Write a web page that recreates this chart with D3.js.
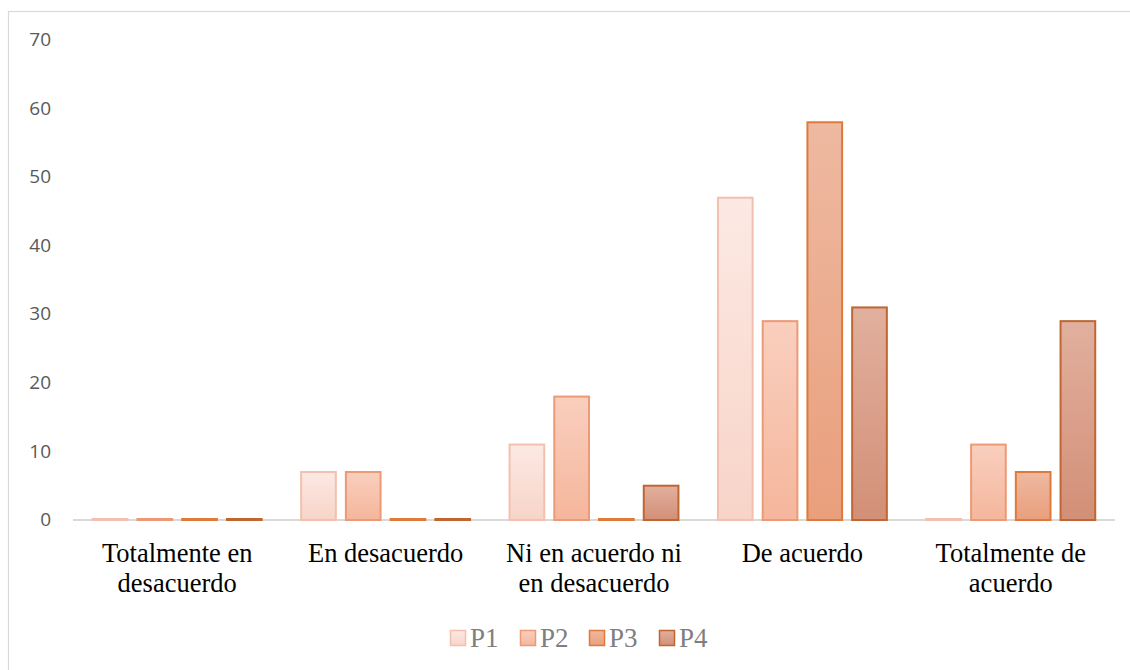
<!DOCTYPE html>
<html>
<head>
<meta charset="utf-8">
<script src="https://cdn.jsdelivr.net/npm/d3@7"></script>
<style>
  html, body { margin: 0; padding: 0; background: #fff; }
  svg { display: block; }
</style>
</head>
<body>
<svg id="chart" width="1130" height="670"></svg>
<script>
// Survey answer categories (two-line labels)
const categories = [
  ["Totalmente en", "desacuerdo"],
  ["En desacuerdo"],
  ["Ni en acuerdo ni", "en desacuerdo"],
  ["De acuerdo"],
  ["Totalmente de", "acuerdo"]
];
const seriesNames = ["P1", "P2", "P3", "P4"];
const p1 = [0, 7, 11, 47, 0];
const p2 = [0, 7, 18, 29, 11];
const p3 = [0, 0, 0, 58, 7];
const p4 = [0, 0, 5, 31, 29];
const yTicks = [0, 10, 20, 30, 40, 50, 60, 70];

const seriesValues = [p1, p2, p3, p4];
const seriesStyle = [
  { top: "#fce9e3", bottom: "#f8d4c8", stroke: "#f2c0ae" },
  { top: "#f9cfbe", bottom: "#f5b69c", stroke: "#ec9a76" },
  { top: "#eeb9a1", bottom: "#e99f7c", stroke: "#dd7a3c" },
  { top: "#e1b09e", bottom: "#d38f77", stroke: "#bf6631" }
];

const svg = d3.select("#chart");

// Outer chart frame
svg.append("rect")
  .attr("x", 8.5).attr("y", 11.5)
  .attr("width", 1140).attr("height", 700)
  .attr("fill", "#fff").attr("stroke", "#d9d9d9").attr("stroke-width", 1.2);

const defs = svg.append("defs");
seriesStyle.forEach((s, i) => {
  const g = defs.append("linearGradient")
    .attr("id", "grad" + i).attr("x1", 0).attr("y1", 0).attr("x2", 0).attr("y2", 1);
  g.append("stop").attr("offset", "0%").attr("stop-color", s.top);
  g.append("stop").attr("offset", "100%").attr("stop-color", s.bottom);
});

const plot = { left: 73, right: 1115, top: 40, bottom: 520 };

const x0 = d3.scaleBand()
  .domain(d3.range(categories.length))
  .range([plot.left, plot.right])
  .paddingInner(0).paddingOuter(0);

const groupInner = 0.82;
const x1 = d3.scaleBand()
  .domain(d3.range(seriesNames.length))
  .range([0, x0.bandwidth() * groupInner])
  .paddingInner(0.18).paddingOuter(0);

const y = d3.scaleLinear().domain([0, 70]).range([plot.bottom, plot.top]);

// Y tick labels
const yAxis = d3.axisLeft(y).tickValues(yTicks).tickSize(0).tickPadding(0);
const yG = svg.append("g").attr("transform", `translate(${51},0)`).call(yAxis);
yG.select(".domain").remove();
yG.selectAll("text")
  .attr("fill", "#595959")
  .attr("font-family", "'Open Sans', 'Noto Sans', sans-serif")
  .attr("font-size", 19)
  .attr("text-anchor", "end")
  .attr("dy", "0.3em");

// Baseline
svg.append("line")
  .attr("x1", plot.left).attr("x2", plot.right)
  .attr("y1", y(0)).attr("y2", y(0))
  .attr("stroke", "#d9d9d9").attr("stroke-width", 2);

// Bars
const groups = svg.append("g").selectAll("g")
  .data(categories)
  .join("g")
  .attr("transform", (d, i) => `translate(${x0(i) + x0.bandwidth() * (1 - groupInner) / 2},0)`);

groups.each(function (d, ci) {
  const g = d3.select(this);
  seriesValues.forEach((vals, si) => {
    const v = vals[ci];
    const h = Math.max(y(0) - y(v), 1);
    g.append("rect")
      .attr("x", x1(si) + 1)
      .attr("y", y(0) - h)
      .attr("width", x1.bandwidth() - 2)
      .attr("height", h)
      .attr("fill", `url(#grad${si})`)
      .attr("stroke", seriesStyle[si].stroke)
      .attr("stroke-width", 2);
  });
});

// Category labels
const xLabels = svg.append("g");
categories.forEach((lines, i) => {
  const cx = x0(i) + x0.bandwidth() / 2;
  const t = xLabels.append("text")
    .attr("x", cx)
    .attr("y", 562)
    .attr("text-anchor", "middle")
    .attr("font-family", "'Liberation Serif', 'Times New Roman', serif")
    .attr("font-size", 26.5)
    .attr("fill", "#000");
  lines.forEach((ln, k) => {
    t.append("tspan").attr("x", cx).attr("dy", k === 0 ? 0 : 30).text(ln);
  });
});

// Legend
const legendX = [450, 520, 589, 659];
const legend = svg.append("g");
seriesNames.forEach((name, i) => {
  legend.append("rect")
    .attr("x", legendX[i] + 0.5).attr("y", 630.5)
    .attr("width", 15).attr("height", 15)
    .attr("fill", `url(#grad${i})`)
    .attr("stroke", seriesStyle[i].stroke).attr("stroke-width", 1.5);
  legend.append("text")
    .attr("x", legendX[i] + 20).attr("y", 647)
    .attr("font-family", "'Liberation Serif', 'Times New Roman', serif")
    .attr("font-size", 27)
    .attr("fill", "#7f7f7f")
    .text(name);
});
</script>
</body>
</html>
